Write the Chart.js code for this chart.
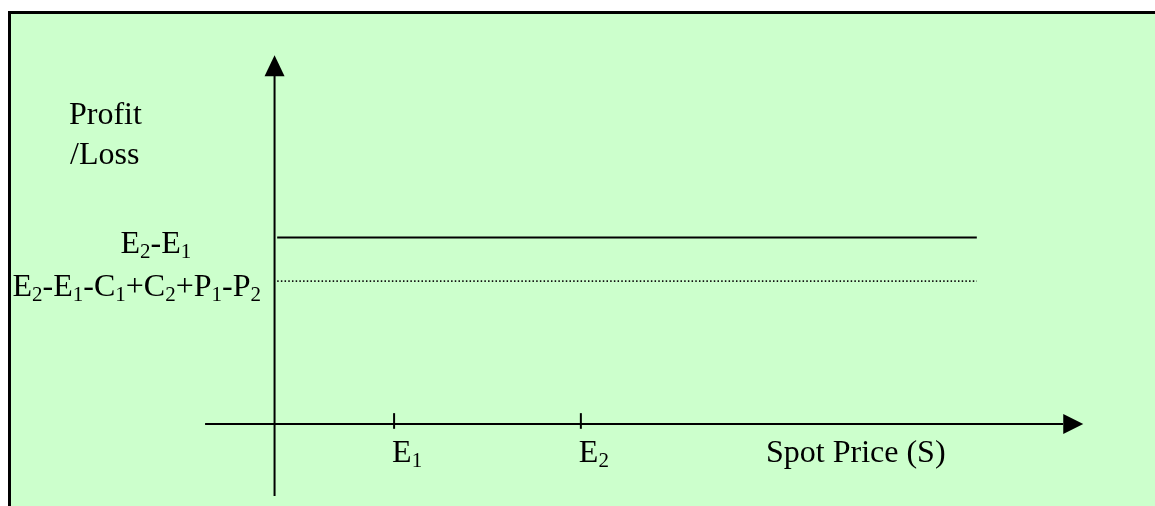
<!DOCTYPE html>
<html>
<head>
<meta charset="utf-8">
<script src="https://cdn.jsdelivr.net/npm/chart.js@4/dist/chart.umd.min.js"></script>
<style>
  html, body { margin: 0; padding: 0; background: #ffffff; width: 1155px; height: 506px; overflow: hidden; }
  #panel {
    position: absolute; left: 8px; top: 11px; right: -10px; bottom: -10px;
    background: #ccffcc; border-top: 3px solid #000; border-left: 3px solid #000;
  }
  #chart { position: absolute; left: 0; top: 0; }
</style>
</head>
<body>
<div id="panel"></div>
<canvas id="chart" width="1155" height="506"></canvas>
<script>
// Box spread payoff: strike prices on the spot axis, profit levels on the vertical axis
const strikeLabels = ['E_1', 'E_2'];
const strikeValues = [3.2, 8.2];
const levelLabels = ['E_2-E_1', 'E_2-E_1-C_1+C_2+P_1-P_2'];
const levelValues = [5, 3.83];
const spotRange = [0.07, 18.8];
const xAxisExtent = [-1.86, 21.65];
const yAxisExtent = [-1.93, 9.89];
const xAxisTitle = 'Spot Price (S)';
const yAxisTitle = ['Profit', '/Loss'];

const FONT = '"Liberation Serif", "Times New Roman", serif';
const MAIN = 32, SUB = 21;

// draws text where "_d" marks a subscript digit
function drawRich(ctx, text, x, y) {
  ctx.textBaseline = 'alphabetic';
  ctx.textAlign = 'left';
  let i = 0, cx = x;
  while (i < text.length) {
    if (text[i] === '_') {
      ctx.font = SUB + 'px ' + FONT;
      ctx.fillText(text[i + 1], cx, y + 5);
      cx += ctx.measureText(text[i + 1]).width;
      i += 2;
    } else {
      let j = i;
      while (j < text.length && text[j] !== '_') j++;
      const s = text.slice(i, j);
      ctx.font = MAIN + 'px ' + FONT;
      ctx.fillText(s, cx, y);
      cx += ctx.measureText(s).width;
      i = j;
    }
  }
}

const seg = (x1, y1, x2, y2) => [{ x: x1, y: y1 }, { x: x2, y: y2 }];
const black = { borderColor: '#000', borderWidth: 2, pointRadius: 0, showLine: true, fill: false };

const datasets = [
  Object.assign({ data: seg(xAxisExtent[0], 0, xAxisExtent[1] - 0.54, 0) }, black),
  Object.assign({ data: seg(0, yAxisExtent[0], 0, yAxisExtent[1] - 0.56) }, black),
  ...strikeValues.map(v => Object.assign({ data: seg(v, -0.13, v, 0.29) }, black)),
  Object.assign({ data: seg(spotRange[0], levelValues[0], spotRange[1], levelValues[0]) }, black),
  Object.assign({ data: seg(spotRange[0], levelValues[1], spotRange[1], levelValues[1]) }, black,
    { borderWidth: 1.6, borderColor: '#111', borderDash: [1.5, 2.2] })
];

const annotations = {
  id: 'annotations',
  afterDatasetsDraw(chart) {
    const ctx = chart.ctx, xs = chart.scales.x, ys = chart.scales.y;
    const x0 = xs.getPixelForValue(0), y0 = ys.getPixelForValue(0);
    ctx.save();
    ctx.fillStyle = '#000';
    // arrowheads
    const xt = xs.getPixelForValue(xAxisExtent[1]);
    ctx.beginPath();
    ctx.moveTo(xt, y0); ctx.lineTo(xt - 20, y0 - 10); ctx.lineTo(xt - 20, y0 + 10); ctx.closePath(); ctx.fill();
    const yt = ys.getPixelForValue(yAxisExtent[1]);
    ctx.beginPath();
    ctx.moveTo(x0, yt); ctx.lineTo(x0 - 10, yt + 21); ctx.lineTo(x0 + 10, yt + 21); ctx.closePath(); ctx.fill();
    // strike labels
    strikeLabels.forEach((t, i) => drawRich(ctx, t, xs.getPixelForValue(strikeValues[i]) - 2, y0 + 38));
    // level labels
    drawRich(ctx, levelLabels[0], x0 - 154, ys.getPixelForValue(levelValues[0]) + 15);
    drawRich(ctx, levelLabels[1], x0 - 262, ys.getPixelForValue(levelValues[1]) + 15);
    // axis titles
    drawRich(ctx, xAxisTitle, 766, y0 + 38);
    drawRich(ctx, yAxisTitle[0], 69, 124);
    drawRich(ctx, yAxisTitle[1], 70, 164);
    ctx.restore();
  }
};

new Chart(document.getElementById('chart'), {
  type: 'scatter',
  data: { datasets },
  options: {
    responsive: false,
    devicePixelRatio: 1,
    animation: false,
    layout: { padding: 0 },
    plugins: { legend: { display: false }, tooltip: { enabled: false } },
    scales: {
      x: { type: 'linear', display: false, min: -7.35, max: 23.57 },
      y: { type: 'linear', display: false, min: -2.2, max: 11.37 }
    }
  },
  plugins: [annotations]
});
</script>
</body>
</html>
